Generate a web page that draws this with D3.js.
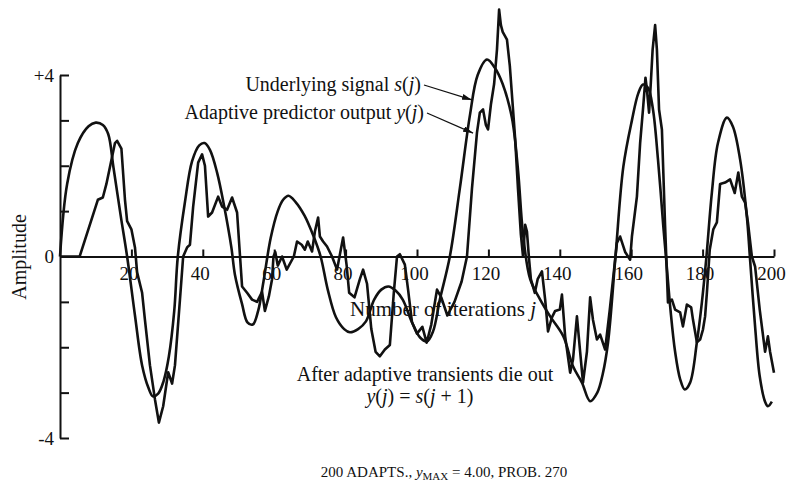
<!DOCTYPE html>
<html>
<head>
<meta charset="utf-8">
<script src="https://cdn.jsdelivr.net/npm/d3@7"></script>
<style>
  body { margin: 0; background: #fff; }
  svg { display: block; }
  text { font-family: "Liberation Serif", "DejaVu Serif", serif; fill: #111; }
</style>
</head>
<body>
<svg></svg>
<script>
var width = 799, height = 495;

// underlying signal s(j)
var sigJ = [0, 2, 5, 8, 10, 12, 13.5, 15, 17, 18.8, 21, 23, 24.8, 26, 27.5, 29, 30.5, 32, 33, 35, 37, 39, 40.5, 42, 44, 46, 48, 49,
  51, 52.5, 54, 55.5, 57, 59, 61, 62.5, 64, 66, 68.5, 71, 73, 75, 77.3, 79.6, 81.2, 83.5, 85.7, 88, 90, 92, 94, 96, 98.6, 100.8,
  102.8, 104.5, 106.4, 109.2, 112, 114.8, 117, 119.6, 121.8, 124, 126.6, 128.3, 129.7, 131.7, 134.5, 137.3, 141, 143.7, 146.2,
  148.5, 150.5, 152, 153.5, 155.6, 157.8, 160.2, 162, 163.3, 164.7, 166.1, 167.5, 169, 169.8, 171, 172.3, 173.7, 175, 176.5,
  178.4, 179.8, 181, 182.6, 184.3, 186.8, 188.5, 190.5, 192.4, 193.3, 194.7, 196, 197.5, 198.3, 199.4];
var sigV = [0, 1.6, 2.5, 2.87, 2.95, 2.9, 2.7, 1.95, 0.9, 0, -1.3, -2.4, -2.9, -3.08, -3.02, -2.75, -2.2, -1.2, 0, 1.2, 2.1, 2.45,
  2.5, 2.35, 1.85, 1.1, 0.2, -0.4, -1.05, -1.45, -1.5, -1.2, -0.55, 0.4, 1.0, 1.25, 1.34, 1.2, 0.9, 0.45, 0, -0.73, -1.34, -1.6,
  -1.67, -1.6, -1.43, -0.95, -0.73, -0.66, -0.75, -0.95, -1.45, -1.78, -1.87, -1.65, -0.95, 0, 1.5, 3.1, 4.0, 4.34, 4.16, 3.8,
  3.05, 1.9, 0.5, -0.5, -0.95, -1.32, -1.76, -2.42, -2.78, -3.19, -3.0, -2.6, -1.9, 0, 1.98, 3.0, 3.6, 3.79, 3.72, 3.24, 2.14,
  0.66, -0.07, -1.17, -2.1, -2.7, -2.93, -2.78, -1.89, -1.01, -0.07, 1.41, 2.5, 3.06, 2.86, 2.14, 0.88, -0.07, -1.54, -2.64,
  -3.2, -3.3, -3.2];

// adaptive predictor output y(j)
var outJ = [0, 5.5, 10.6, 12, 13, 15.4, 16, 17.2, 18.2, 18.8, 20, 21, 21.6, 23, 23.8, 25.2, 26.6, 27.7, 28.9, 30.3, 31.4, 32.2,
  33.6, 34.5, 35.6, 36.4, 37.3, 38.7, 39.8, 40.6, 41.5, 42.6, 44.3, 45.4, 46.8, 48.2, 49.6, 51, 52.4, 53.8, 55.2, 56.6, 57.4,
  58.5, 59.4, 59.8, 60.3, 61, 62.2, 63.5, 65.5, 66.4, 67.7, 68.6, 69.4, 70.6, 71.4, 72.3, 72.8, 73.7, 74.8, 76.2, 77.6, 79.3,
  80.3, 81, 82.5, 84, 84.9, 86, 87.2, 88.4, 89.6, 91, 92.4, 93.5, 94.4, 95.2, 96.6, 97.5, 98.6, 100, 101.5, 102.7, 104, 105.6,
  106.8, 108.5, 110.5, 112.5, 114, 115.4, 116.8, 117.6, 118.5, 119.3, 119.9, 120.7, 121.6, 122.4, 123, 123.5, 124, 125.2, 126,
  126.9, 127.5, 128.3, 129.1, 129.7, 130.3, 130.8, 131.4, 131.9, 133, 133.8, 135, 135.9, 136.7, 137.8, 138.7, 140, 140.6,
  141.5, 142.9, 143.7, 144.8, 145.7, 146.5, 147.6, 148.5, 149.3, 150.4, 151.3, 152.7, 154, 156, 156.9, 158.3, 159.7, 160.2,
  161.6, 162.5, 163.3, 164, 164.4, 165, 165.5, 166, 166.7, 167.2, 167.8, 168.6, 169.5, 170.3, 171.4, 172.3, 173.7, 174.5,
  175.6, 176.8, 177.3, 178.4, 179.3, 180.1, 180.7, 181.2, 182, 183, 184, 184.9, 186.3, 187.7, 189, 190, 191, 191.9, 192.7,
  193.8, 194.7, 196, 197.5, 198.3, 198.9, 200];
var outV = [0, 0, 1.25, 1.3, 1.6, 2.5, 2.55, 2.38, 1.25, 0.78, 0.6, 0.2, -0.35, -0.8, -1.4, -2.4, -3.15, -3.66, -3.3, -2.55,
  -2.8, -2.4, -0.95, 0, 0.2, 0.26, 1.1, 2.07, 2.25, 2.0, 0.88, 0.97, 1.32, 1.1, 1.03, 1.3, 0.97, -0.66, -0.8, -0.95, -1.0,
  -0.78, -1.2, -0.88, -0.5, 0, 0.1, -0.2, 0, -0.29, 0, 0.33, 0.26, 0.15, 0.33, 0.11, 0.55, 0.86, 0.44, 0.33, 0.22, 0, -0.29,
  0.42, -0.2, -0.8, -0.9, -0.5, -0.29, -0.6, -1.6, -2.1, -2.2, -2.05, -1.95, -0.8, 0, 0.05, -0.18, -0.73, -1.45, -1.7, -1.55,
  -1.9, -1.5, -0.73, -0.9, -1.3, -1.0, -0.55, 0, 1.5, 2.73, 3.17, 3.24, 2.9, 2.8, 3.35, 3.8, 4.56, 5.44, 5.1, 4.95, 4.78, 4.2,
  3.24, 2.58, 1.48, 0.48, 0, 0.7, 0.55, -0.07, -0.5, -0.8, -0.5, -0.33, -0.95, -1.65, -1.34, -1.2, -1.17, -0.84, -1.76, -2.56,
  -2.27, -1.32, -2.1, -2.78, -2.1, -0.9, -1.4, -1.83, -1.72, -2.05, -1.17, 0.3, 0.44, 0.1, -0.07, 0.44, 1.32, 2.5, 3.24, 3.94,
  3.68, 3.17, 3.83, 4.56, 5.1, 4.56, 3.24, 2.8, 0.66, -1.01, -0.95, -1.17, -1.23, -1.54, -1.06, -1.12, -1.39, -1.89, -1.83,
  -1.61, -1.32, -0.8, 0.15, 0.6, 0.75, 1.6, 1.63, 1.7, 1.4, 1.85, 1.32, 1.19, 0.75, 0, -0.22, -1.17, -2.1, -1.76, -2.1, -2.56];

var xTicks = [20, 40, 60, 80, 100, 120, 140, 160, 180, 200];
var yTicks = [-4, -3, -2, -1, 0, 1, 2, 3, 4];
var yTickText = { "4": "+4", "0": "0", "-4": "-4" };

var svg = d3.select("svg").attr("width", width).attr("height", height);

var xScale = d3.scaleLinear().domain([0, 200]).range([60, 774]);
var yScale = d3.scaleLinear().domain([-4, 4]).range([438, 75]);

// defs: arrow head
svg.append("defs").append("marker")
  .attr("id", "arr")
  .attr("viewBox", "0 0 10 6")
  .attr("refX", 10).attr("refY", 3)
  .attr("markerWidth", 10).attr("markerHeight", 6)
  .attr("markerUnits", "userSpaceOnUse")
  .attr("orient", "auto")
  .append("path").attr("d", "M0,0 L10,3 L0,6 Z").attr("fill", "#111");

// axes
var gx = svg.append("g")
  .attr("transform", "translate(0," + yScale(0) + ")")
  .call(d3.axisBottom(xScale).tickValues(xTicks).tickSizeInner(-7).tickSizeOuter(0).tickPadding(10));
var gy = svg.append("g")
  .attr("transform", "translate(" + xScale(0) + ",0)")
  .call(d3.axisLeft(yScale).tickValues(yTicks).tickSizeInner(-9).tickSizeOuter(0).tickPadding(6)
    .tickFormat(function(d) { return yTickText[d] || ""; }));

[gx, gy].forEach(function(g) {
  g.attr("font-family", null).attr("font-size", null);
  g.selectAll("path, line").attr("stroke", "#111").attr("stroke-width", 2);
  g.selectAll("text").style("font-size", "19px").attr("fill", "#111");
});
gx.selectAll(".tick text").attr("dx", -3);

// curves
var smooth = d3.line()
  .x(function(d) { return xScale(d[0]); })
  .y(function(d) { return yScale(d[1]); })
  .curve(d3.curveCatmullRom.alpha(0.5));
var jag = d3.line()
  .x(function(d) { return xScale(d[0]); })
  .y(function(d) { return yScale(d[1]); });

svg.append("path")
  .datum(sigJ.map(function(j, i) { return [j, sigV[i]]; }))
  .attr("d", smooth)
  .attr("fill", "none").attr("stroke", "#111").attr("stroke-width", 2.6);

svg.append("path")
  .datum(outJ.map(function(j, i) { return [j, outV[i]]; }))
  .attr("d", jag)
  .attr("fill", "none").attr("stroke", "#111").attr("stroke-width", 2.6)
  .attr("stroke-linejoin", "round");

// labels
svg.append("text")
  .attr("transform", "translate(26,257) rotate(-90)")
  .attr("text-anchor", "middle")
  .style("font-size", "20px")
  .text("Amplitude");

svg.append("text")
  .attr("x", 350).attr("y", 316)
  .style("font-size", "21px")
  .html('Number of iterations <tspan font-style="italic">j</tspan>');

function label(x, y, html, anchor, size) {
  return svg.append("text")
    .attr("x", x).attr("y", y)
    .attr("text-anchor", anchor)
    .style("font-size", (size || 20) + "px")
    .html(html);
}

label(421, 91, 'Underlying signal <tspan font-style="italic">s</tspan>(<tspan font-style="italic">j</tspan>)', "end");
label(424, 119, 'Adaptive predictor output <tspan font-style="italic">y</tspan>(<tspan font-style="italic">j</tspan>)', "end");

svg.append("line")
  .attr("x1", 424).attr("y1", 85)
  .attr("x2", xScale(115.4)).attr("y2", yScale(3.45))
  .attr("stroke", "#111").attr("stroke-width", 1.3).attr("marker-end", "url(#arr)");
svg.append("line")
  .attr("x1", 427).attr("y1", 113)
  .attr("x2", xScale(115.7)).attr("y2", yScale(2.72))
  .attr("stroke", "#111").attr("stroke-width", 1.3).attr("marker-end", "url(#arr)");

label(425, 381, "After adaptive transients die out", "middle");
label(420, 403, '<tspan font-style="italic">y</tspan>(<tspan font-style="italic">j</tspan>) = <tspan font-style="italic">s</tspan>(<tspan font-style="italic">j</tspan> + 1)', "middle");

label(444, 477, '200 ADAPTS., <tspan font-style="italic">y</tspan><tspan dy="3" style="font-size:11px">MAX</tspan><tspan dy="-3"> = 4.00, PROB. 270</tspan>', "middle", 15);
</script>
</body>
</html>
